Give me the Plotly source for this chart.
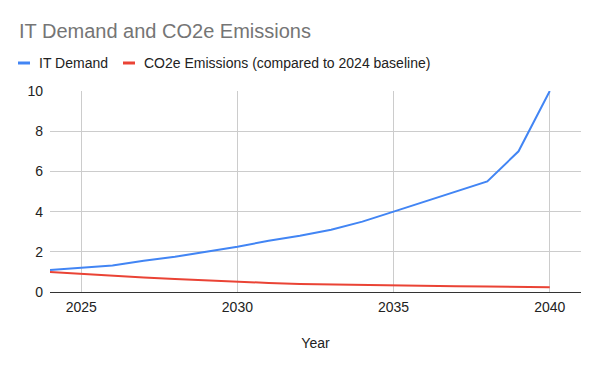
import plotly.graph_objects as go

years = list(range(2024, 2041))
it_demand = [1.1, 1.2, 1.32, 1.55, 1.75, 2.0, 2.25, 2.55, 2.8, 3.1, 3.5, 4.0, 4.5, 5.0, 5.5, 7.0, 10.0]
co2e = [1.0, 0.9, 0.8, 0.72, 0.65, 0.58, 0.5, 0.45, 0.4, 0.37, 0.35, 0.32, 0.3, 0.28, 0.27, 0.25, 0.24]
series_names = ["IT Demand", "CO2e Emissions (compared to 2024 baseline)"]
series_colors = ["#4285F4", "#EA4335"]
x_ticks = [2025, 2030, 2035, 2040]
y_ticks = [0, 2, 4, 6, 8, 10]

W, H = 600, 371
ML, MR, MT, MB = 50, 19, 91, 79
PW, PH = W - ML - MR, H - MT - MB

def px_x(p):
    return (p - ML) / PW

def px_y(p):
    return (H - MB - p) / PH

FONT = "Liberation Sans, Arial, sans-serif"

fig = go.Figure()
for name, vals, col in zip(series_names, [it_demand, co2e], series_colors):
    fig.add_trace(go.Scatter(x=years, y=vals, mode="lines", name=name,
                             line=dict(color=col, width=2), showlegend=False,
                             hoverinfo="x+y+name"))

# manual legend (short swatch like the reference)
shapes = []
annotations = []
legend_items = [(18, 39), (123, 144)]
for (sx, tx), name, col in zip(legend_items, series_names, series_colors):
    shapes.append(dict(type="rect", xref="paper", yref="paper",
                       x0=px_x(sx), x1=px_x(sx + 12), y0=px_y(61.5), y1=px_y(64.5),
                       fillcolor=col, line=dict(width=0), layer="above"))
    annotations.append(dict(text=name, xref="paper", yref="paper",
                            x=px_x(tx - 2), y=px_y(63), xanchor="left", yanchor="middle",
                            showarrow=False, font=dict(family=FONT, size=14, color="#222222")))

fig.update_layout(
    width=W, height=H,
    margin=dict(l=ML, r=MR, t=MT, b=MB),
    paper_bgcolor="white", plot_bgcolor="white",
    title=dict(text="IT Demand and CO2e Emissions", x=19 / W, xanchor="left",
               xref="container", yref="container", y=1 - 30.5 / H, yanchor="middle",
               font=dict(family=FONT, size=20, color="#757575")),
    font=dict(family=FONT, size=14, color="#222222"),
    shapes=shapes, annotations=annotations,
    xaxis=dict(range=[2024, 2041], tickvals=x_ticks, showgrid=True, gridcolor="#cccccc",
               gridwidth=1, zeroline=False, showline=True, linecolor="#333333", linewidth=1,
               ticks="", ticklabelstandoff=2,
               tickfont=dict(family=FONT, size=14, color="#222222"),
               title=dict(text="Year", font=dict(family=FONT, size=14, color="#222222"),
                          standoff=24)),
    yaxis=dict(range=[0, 10], tickvals=y_ticks, showgrid=True, gridcolor="#cccccc",
               gridwidth=1, zeroline=False, showline=False, ticks="",
               ticklabelstandoff=6,
               tickfont=dict(family=FONT, size=14, color="#222222")),
)

fig.write_html("out.html", config={"displayModeBar": False},
               post_script="document.body.style.margin='0';document.body.style.overflow='hidden';")
